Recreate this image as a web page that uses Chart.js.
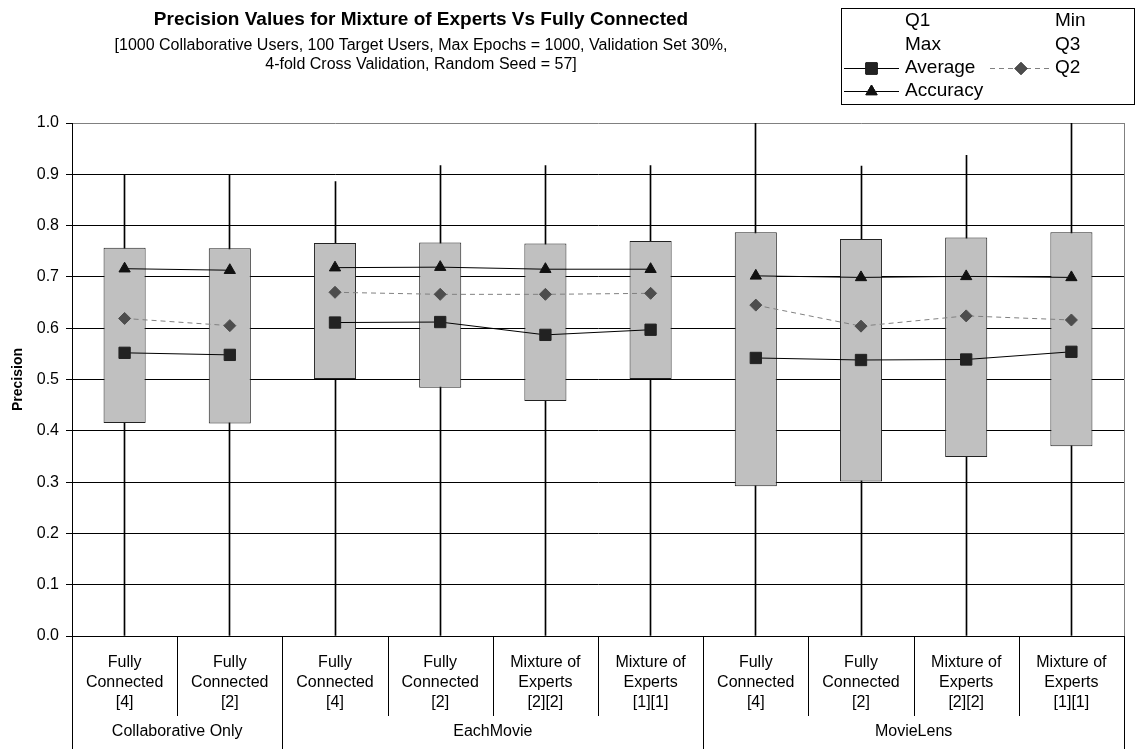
<!DOCTYPE html>
<html>
<head>
<meta charset="utf-8">
<title>Precision Values</title>
<script src="https://cdn.jsdelivr.net/npm/chart.js@4/dist/chart.umd.min.js"></script>
<style>
  html, body { margin: 0; padding: 0; background: #fff; }
  canvas { display: block; }
</style>
</head>
<body>
<canvas id="precisionChart" width="1136" height="749"></canvas>
<script>
const FONT = "'Liberation Sans', Arial, sans-serif";

// x axis: configurations, grouped by dataset
const categories = [
  ['Fully', 'Connected', '[4]'], ['Fully', 'Connected', '[2]'],
  ['Fully', 'Connected', '[4]'], ['Fully', 'Connected', '[2]'],
  ['Mixture of', 'Experts', '[2][2]'], ['Mixture of', 'Experts', '[1][1]'],
  ['Fully', 'Connected', '[4]'], ['Fully', 'Connected', '[2]'],
  ['Mixture of', 'Experts', '[2][2]'], ['Mixture of', 'Experts', '[1][1]']
];
const groups = ['Collaborative Only', 'EachMovie', 'MovieLens'];
const groupSizes = [2, 4, 4];

// precision statistics per configuration
const q1Values  = [0.415, 0.414, 0.501, 0.484, 0.458, 0.501, 0.292, 0.301, 0.349, 0.370];
const q3Values  = [0.757, 0.756, 0.766, 0.767, 0.765, 0.770, 0.787, 0.774, 0.777, 0.787];
const minValues = [0, 0, 0, 0, 0, 0, 0, 0, 0, 0];
const maxValues = [0.900, 0.900, 0.886, 0.917, 0.917, 0.917, 1.000, 0.916, 0.937, 1.000];
const averageValues  = [0.552, 0.548, 0.611, 0.612, 0.587, 0.597, 0.542, 0.538, 0.539, 0.554];
const q2Values       = [0.619, 0.605, 0.670, 0.666, 0.666, 0.668, 0.645, 0.604, 0.624, 0.616];
const accuracyValues = [0.716, 0.713, 0.718, 0.719, 0.715, 0.715, 0.702, 0.699, 0.701, 0.699];

const yTicks = { min: 0, max: 1, step: 0.1 };

// which group each category belongs to
const groupOf = [];
groupSizes.forEach((n, g) => { for (let i = 0; i < n; i++) groupOf.push(g); });

// lines only join points inside the same group
const splitSegments = {
  borderColor: ctx => groupOf[ctx.p0DataIndex] !== groupOf[ctx.p1DataIndex] ? 'rgba(0,0,0,0)' : undefined
};

const boxes = q1Values.map((v, i) => [v, q3Values[i]]);
const whiskers = minValues.map((v, i) => [v, maxValues[i]]);

// keep the 1px min-max bars on whole pixels so they stay sharp
const crispWhiskers = {
  id: 'crispWhiskers',
  beforeDatasetsDraw(chart) {
    chart.data.datasets.forEach((ds, i) => {
      if (ds.label !== 'Min-Max') return;
      chart.getDatasetMeta(i).data.forEach(el => { el.x = Math.floor(el.x) + 0.5; });
    });
  }
};

// title, subtitle, legend box, right border, x axis dividers and group names
const decorations = {
  id: 'decorations',
  afterDraw(chart) {
    const { ctx, chartArea, scales } = chart;
    const x = scales.x;
    ctx.save();

    // titles
    ctx.fillStyle = '#000';
    ctx.textAlign = 'center';
    ctx.textBaseline = 'middle';
    ctx.font = 'bold 19px ' + FONT;
    ctx.fillText('Precision Values for Mixture of Experts Vs Fully Connected', 421, 20);
    ctx.font = '16px ' + FONT;
    ctx.fillText('[1000 Collaborative Users, 100 Target Users, Max Epochs = 1000, Validation Set 30%,', 421, 46);
    ctx.fillText('4-fold Cross Validation, Random Seed = 57]', 421, 65);

    // right border of plot area
    ctx.strokeStyle = '#808080';
    ctx.lineWidth = 1;
    ctx.beginPath();
    ctx.moveTo(Math.round(chartArea.right) + 0.5, chartArea.top);
    ctx.lineTo(Math.round(chartArea.right) + 0.5, chartArea.bottom);
    ctx.stroke();

    // dividers in the x axis label area
    const bottom = chart.height;
    const tickEnd = chartArea.bottom + 80;
    ctx.strokeStyle = '#000';
    const bounds = [0];
    groupSizes.reduce((acc, n) => { bounds.push(acc + n); return acc + n; }, 0);
    for (let i = 0; i <= categories.length; i++) {
      const px = Math.round(x.getPixelForValue(i - 0.5)) + 0.5;
      ctx.beginPath();
      ctx.moveTo(px, chartArea.bottom);
      ctx.lineTo(px, bounds.includes(i) ? bottom : tickEnd);
      ctx.stroke();
    }

    // group names
    ctx.font = '16px ' + FONT;
    ctx.fillStyle = '#000';
    groups.forEach((name, g) => {
      const left = x.getPixelForValue(bounds[g] - 0.5);
      const right = x.getPixelForValue(bounds[g + 1] - 0.5);
      ctx.fillText(name, (left + right) / 2, 732);
    });

    // legend
    const lx = 841, ly = 8, lw = 294, lh = 96;
    ctx.strokeStyle = '#000';
    ctx.strokeRect(lx + 0.5, ly + 0.5, lw - 1, lh);
    ctx.font = '19px ' + FONT;
    ctx.textAlign = 'left';
    const rows = [21, 45, 68, 91];
    const col1 = 905, col2 = 1055;
    ctx.fillText('Q1', col1, rows[0]);
    ctx.fillText('Min', col2, rows[0]);
    ctx.fillText('Max', col1, rows[1]);
    ctx.fillText('Q3', col2, rows[1]);

    const drawEntry = (ds, x0, x1, textX, y) => {
      ctx.save();
      ctx.strokeStyle = ds.borderColor;
      ctx.lineWidth = 1;
      ctx.setLineDash(ds.borderDash || []);
      ctx.beginPath();
      ctx.moveTo(x0, y + 0.5);
      ctx.lineTo(x1, y + 0.5);
      ctx.stroke();
      ctx.restore();
      Chart.helpers.drawPoint(ctx, {
        pointStyle: ds.pointStyle, radius: ds.pointRadius,
        borderWidth: 1, rotation: 0
      }, (x0 + x1) / 2, y + 0.5);
      ctx.fillStyle = ds.pointBackgroundColor;
      ctx.strokeStyle = ds.pointBorderColor;
      ctx.fill();
      ctx.stroke();
      ctx.fillStyle = '#000';
      ctx.fillText(ds.label, textX, y);
    };
    const byLabel = l => chart.data.datasets.find(d => d.label === l);
    drawEntry(byLabel('Average'), 844, 899, col1, rows[2]);
    drawEntry(byLabel('Q2'), 990, 1052, col2, rows[2]);
    drawEntry(byLabel('Accuracy'), 844, 899, col1, rows[3]);

    ctx.restore();
  }
};

new Chart(document.getElementById('precisionChart'), {
  data: {
    labels: categories,
    datasets: [
      {
        type: 'line', label: 'Accuracy', data: accuracyValues, order: 0,
        borderColor: '#000', borderWidth: 1, pointStyle: 'triangle', pointRadius: 6.5,
        pointBackgroundColor: '#111', pointBorderColor: '#111', pointBorderWidth: 1,
        segment: splitSegments
      },
      {
        type: 'line', label: 'Q2', data: q2Values, order: 0,
        borderColor: '#808080', borderWidth: 1, borderDash: [5, 4], pointStyle: 'rectRot', pointRadius: 6,
        pointBackgroundColor: '#4d4d4d', pointBorderColor: '#4d4d4d', pointBorderWidth: 1,
        segment: splitSegments
      },
      {
        type: 'line', label: 'Average', data: averageValues, order: 0,
        borderColor: '#000', borderWidth: 1, pointStyle: 'rect', pointRadius: 8,
        pointBackgroundColor: '#222', pointBorderColor: '#222', pointBorderWidth: 1,
        segment: splitSegments
      },
      {
        type: 'bar', label: 'Q1-Q3', data: boxes, order: 1, grouped: false,
        backgroundColor: '#c0c0c0', borderColor: '#222', borderWidth: 1, borderSkipped: false,
        categoryPercentage: 1, barPercentage: 0.4
      },
      {
        type: 'bar', label: 'Min-Max', data: whiskers, order: 2, grouped: false,
        backgroundColor: '#000', borderWidth: 0, barThickness: 1
      }
    ]
  },
  options: {
    responsive: false,
    animation: false,
    layout: { padding: { top: 123, right: 12, left: 0, bottom: 0 } },
    plugins: {
      legend: { display: false },
      tooltip: { enabled: false },
      title: { display: false }
    },
    scales: {
      x: {
        type: 'category',
        offset: true,
        grid: { display: false, drawTicks: false },
        border: { color: '#000', width: 1 },
        ticks: {
          color: '#000', font: { family: FONT, size: 16, lineHeight: 1.25 },
          padding: 17, maxRotation: 0, autoSkip: false
        },
        afterFit: scale => { scale.height = 113; }
      },
      y: {
        min: yTicks.min, max: yTicks.max,
        grid: {
          color: ctx => ctx.tick && ctx.tick.value >= 1 ? '#808080' : '#000',
          tickColor: '#000', tickLength: 6, lineWidth: 1
        },
        border: { color: '#000', width: 1 },
        ticks: {
          stepSize: yTicks.step, color: '#000', padding: 7,
          font: { family: FONT, size: 16 },
          callback: v => v.toFixed(1)
        },
        title: {
          display: true, text: 'Precision', color: '#000',
          font: { family: FONT, size: 14, weight: 'bold' }, padding: { top: 10, bottom: 0 }
        },
        afterFit: scale => { scale.width = 72; }
      }
    }
  },
  plugins: [crispWhiskers, decorations]
});
</script>
</body>
</html>
